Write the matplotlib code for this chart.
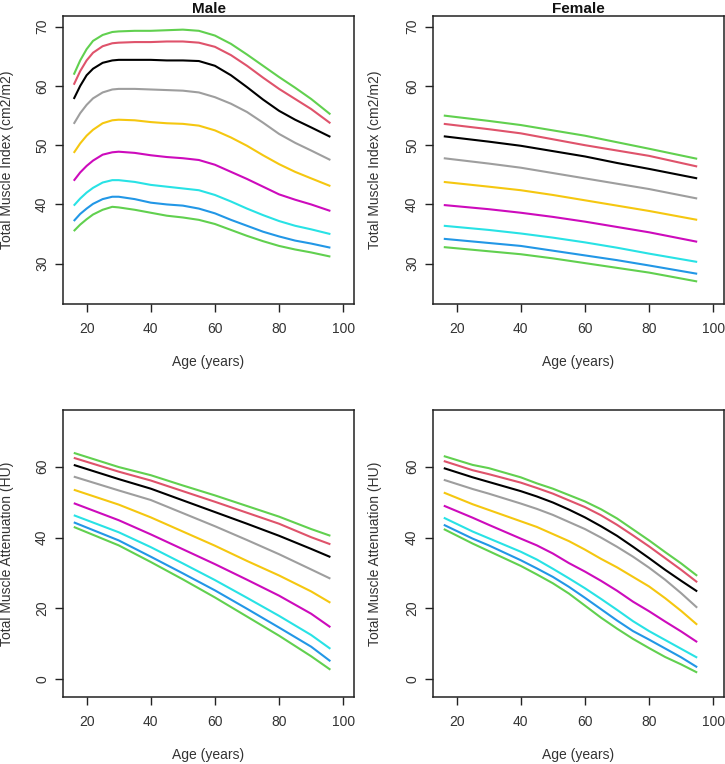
import numpy as np
import matplotlib.pyplot as plt

plt.rcParams['font.family'] = ['Liberation Sans', 'DejaVu Sans']

# percentile curves, top to bottom: 97, 95, 90, 75, 50, 25, 10, 5, 3
colors = ['#61D04F', '#DF536B', '#000000', '#9E9E9E', '#F5C710',
          '#CD0BBC', '#28E2E5', '#2297E6', '#61D04F']

# Male, total muscle index
age_m_tmi = [16, 18, 20, 22, 25, 28, 30, 35, 40, 45, 50, 55, 60, 65, 70, 75, 80, 85, 90, 96]
male_tmi = [
    [61.9, 64.3, 66.2, 67.6, 68.6, 69.1, 69.2, 69.3, 69.3, 69.4, 69.5, 69.3, 68.5, 67.1, 65.3, 63.4, 61.5, 59.7, 57.8, 55.2],
    [60.2, 62.5, 64.3, 65.6, 66.7, 67.2, 67.3, 67.4, 67.4, 67.5, 67.5, 67.3, 66.6, 65.2, 63.4, 61.4, 59.5, 57.8, 56.1, 53.7],
    [57.8, 60.0, 61.8, 62.9, 63.9, 64.3, 64.4, 64.4, 64.4, 64.3, 64.3, 64.2, 63.4, 61.8, 59.8, 57.7, 55.8, 54.3, 53.0, 51.4],
    [53.6, 55.4, 56.8, 57.9, 58.9, 59.4, 59.5, 59.5, 59.4, 59.3, 59.2, 58.9, 58.1, 57.0, 55.6, 53.8, 51.9, 50.4, 49.1, 47.5],
    [48.7, 50.3, 51.6, 52.6, 53.7, 54.2, 54.3, 54.2, 53.9, 53.7, 53.6, 53.3, 52.5, 51.3, 49.9, 48.3, 46.8, 45.5, 44.4, 43.1],
    [44.0, 45.4, 46.5, 47.4, 48.4, 48.8, 48.9, 48.7, 48.3, 48.0, 47.8, 47.5, 46.7, 45.5, 44.3, 43.0, 41.7, 40.8, 40.0, 38.9],
    [39.8, 41.0, 42.0, 42.8, 43.7, 44.1, 44.1, 43.8, 43.3, 43.0, 42.7, 42.4, 41.6, 40.5, 39.3, 38.2, 37.2, 36.4, 35.8, 35.0],
    [37.2, 38.4, 39.3, 40.1, 40.9, 41.3, 41.3, 40.9, 40.3, 40.0, 39.8, 39.3, 38.5, 37.4, 36.4, 35.4, 34.6, 33.9, 33.4, 32.7],
    [35.5, 36.6, 37.5, 38.3, 39.1, 39.6, 39.5, 39.1, 38.6, 38.1, 37.8, 37.4, 36.7, 35.7, 34.7, 33.8, 33.0, 32.4, 31.9, 31.2],
]

# Female, total muscle index
age_f_tmi = [16, 30, 40, 50, 60, 70, 80, 95]
female_tmi = [
    [55.0, 54.1, 53.4, 52.5, 51.6, 50.5, 49.4, 47.7],
    [53.6, 52.7, 52.0, 51.0, 50.0, 49.1, 48.2, 46.4],
    [51.5, 50.6, 49.9, 49.0, 48.1, 47.0, 46.0, 44.4],
    [47.8, 46.9, 46.2, 45.3, 44.4, 43.5, 42.6, 41.0],
    [43.8, 43.0, 42.4, 41.6, 40.7, 39.8, 38.9, 37.4],
    [39.9, 39.2, 38.6, 37.9, 37.1, 36.2, 35.3, 33.7],
    [36.4, 35.7, 35.1, 34.4, 33.6, 32.7, 31.7, 30.3],
    [34.2, 33.5, 33.0, 32.2, 31.4, 30.6, 29.7, 28.3],
    [32.8, 32.1, 31.6, 30.9, 30.1, 29.3, 28.5, 27.0],
]

# Male, total muscle attenuation
age_m_tma = [16, 30, 40, 50, 60, 70, 80, 90, 96]
male_tma = [
    [63.9, 59.9, 57.6, 54.7, 51.9, 48.9, 45.9, 42.4, 40.5],
    [62.5, 58.6, 56.1, 53.1, 50.1, 47.0, 43.9, 40.1, 38.1],
    [60.5, 56.5, 53.8, 50.5, 47.2, 43.9, 40.5, 36.8, 34.5],
    [57.2, 53.3, 50.6, 46.9, 43.2, 39.3, 35.3, 31.0, 28.4],
    [53.5, 49.3, 45.7, 41.7, 37.7, 33.4, 29.3, 24.8, 21.6],
    [49.7, 44.9, 40.9, 36.7, 32.5, 28.1, 23.6, 18.5, 14.7],
    [46.3, 41.5, 37.3, 32.7, 28.0, 23.0, 17.9, 12.5, 8.6],
    [44.3, 39.2, 34.6, 29.9, 25.1, 19.9, 14.6, 9.2, 5.1],
    [43.0, 37.8, 33.1, 28.2, 23.1, 17.7, 12.3, 6.5, 2.7],
]

# Female, total muscle attenuation
age_f_tma = [16, 25, 30, 40, 45, 50, 55, 60, 65, 70, 75, 80, 85, 90, 95]
female_tma = [
    [63.0, 60.5, 59.6, 57.0, 55.3, 53.8, 52.0, 50.2, 48.0, 45.4, 42.3, 39.2, 35.9, 32.7, 29.2],
    [61.6, 59.0, 57.9, 55.5, 54.0, 52.4, 50.5, 48.6, 46.3, 43.6, 40.6, 37.5, 34.2, 30.9, 27.4],
    [59.6, 57.0, 55.7, 53.1, 51.6, 49.9, 47.9, 45.7, 43.2, 40.5, 37.4, 34.2, 30.9, 27.8, 24.8],
    [56.3, 53.7, 52.4, 49.6, 48.1, 46.4, 44.4, 42.4, 40.0, 37.4, 34.6, 31.5, 28.1, 24.3, 20.2],
    [52.7, 49.4, 47.8, 44.6, 43.0, 41.0, 39.0, 36.6, 34.0, 31.6, 28.9, 26.2, 22.9, 19.3, 15.4],
    [49.0, 45.6, 43.6, 39.7, 37.8, 35.5, 32.8, 30.4, 27.8, 25.0, 21.9, 19.2, 16.3, 13.5, 10.5],
    [45.6, 41.7, 39.8, 36.0, 33.8, 31.2, 28.5, 25.7, 22.7, 19.6, 16.4, 13.6, 11.1, 8.6, 6.1],
    [43.6, 39.7, 37.8, 33.6, 31.3, 28.9, 26.1, 23.0, 19.8, 16.6, 13.6, 11.2, 8.7, 6.2, 3.4],
    [42.4, 38.3, 36.2, 32.0, 29.6, 27.1, 24.2, 20.8, 17.4, 14.3, 11.4, 8.8, 6.3, 4.2, 1.9],
]

panels = [
    (age_m_tmi, male_tmi, 'Male', 'Total Muscle Index (cm2/m2)', (23.2, 71.8), [30, 40, 50, 60, 70]),
    (age_f_tmi, female_tmi, 'Female', 'Total Muscle Index (cm2/m2)', (23.2, 71.8), [30, 40, 50, 60, 70]),
    (age_m_tma, male_tma, None, 'Total Muscle Attenuation (HU)', (-5, 76), [0, 20, 40, 60]),
    (age_f_tma, female_tma, None, 'Total Muscle Attenuation (HU)', (-5, 76), [0, 20, 40, 60]),
]

W, H = 725, 764
fig = plt.figure(figsize=(W / 100, H / 100), dpi=100)
# axes boxes in pixels: left, top, width, height, ylabel offset
boxes = [(63, 16, 291, 288, 56), (433, 16, 291, 288, 58),
         (63, 410, 291, 287, 56), (433, 410, 291, 287, 58)]

txt = '#333333'
for (ages, curves, title, ylab, ylim, yt), (x0, y0, w, h, yoff) in zip(panels, boxes):
    ax = fig.add_axes([x0 / W, 1 - (y0 + h) / H, w / W, h / H])
    for c, vals in zip(colors, curves):
        ax.plot(ages, vals, color=c, lw=1.5, solid_capstyle='butt')
    ax.set_xlim(12.64, 103.36)
    ax.set_ylim(*ylim)
    ax.set_xticks([20, 40, 60, 80, 100])
    ax.set_yticks(yt)
    ax.tick_params(direction='out', length=6, width=1, colors='#222222',
                   labelcolor=txt, labelsize=10)
    ax.tick_params(axis='x', pad=7)
    ax.tick_params(axis='y', pad=4)
    for lab in ax.get_yticklabels():
        lab.set_rotation(90)
        lab.set_va('center')
    for s in ax.spines.values():
        s.set_linewidth(1.1)
        s.set_color('#222222')
    ax.set_xlabel('Age (years)', fontsize=10, color=txt, va='center')
    ax.xaxis.set_label_coords(0.5, -58 / h)
    ax.set_ylabel(ylab, fontsize=10, color=txt, va='center')
    ax.yaxis.set_label_coords(-yoff / w, 0.5)
    if title:
        ax.text(0.5, 1 + 3 / h, title, transform=ax.transAxes, ha='center',
                va='baseline', fontsize=11, fontweight='bold', color='#111111')

fig.savefig('out.png', dpi=100)
